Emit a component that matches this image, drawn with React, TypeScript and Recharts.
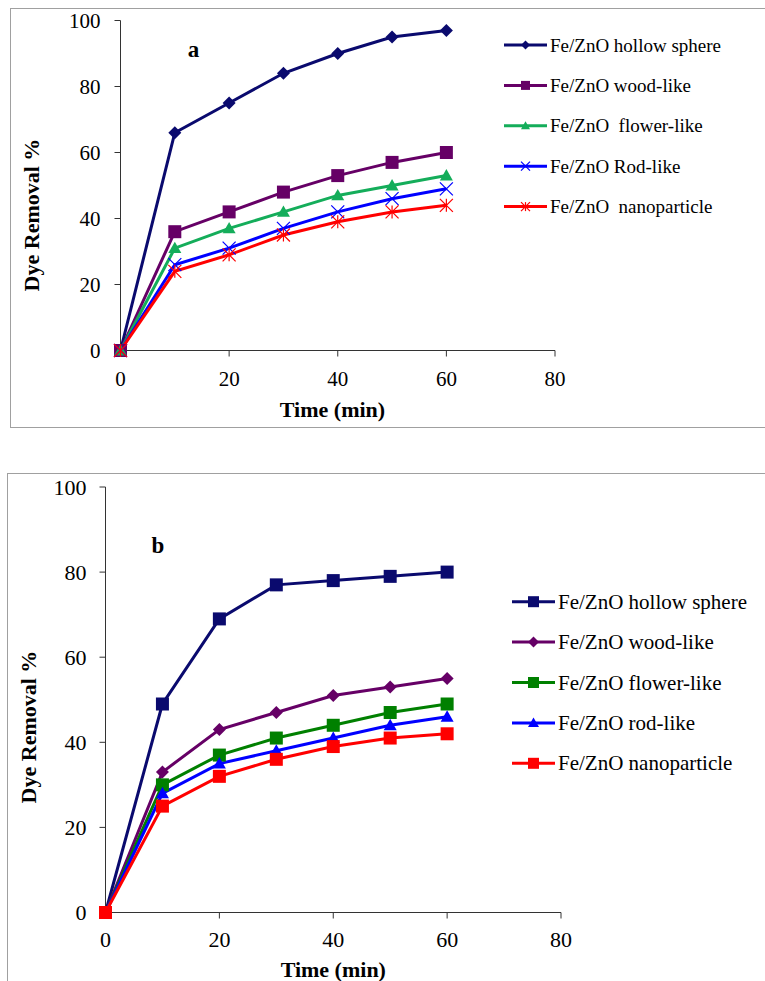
import React from "react";
import { LineChart, Line, XAxis, YAxis } from "recharts";

// shared axes
const timeMin = [0, 10, 20, 30, 40, 50, 60];
const xTicks = [0, 20, 40, 60, 80];
const yTicks = [0, 20, 40, 60, 80, 100];

// panel a
const hollowA = [0, 66, 75, 84, 90, 95, 97];
const woodA = [0, 36, 42, 48, 53, 57, 60];
const flowerA = [0, 31, 37, 42, 47, 50, 53];
const rodA = [0, 26, 31, 37, 42, 46, 49];
const nanoA = [0, 24, 29, 35, 39, 42, 44];
const labelsA = [
  "Fe/ZnO hollow sphere",
  "Fe/ZnO wood-like",
  "Fe/ZnO  flower-like",
  "Fe/ZnO Rod-like",
  "Fe/ZnO  nanoparticle",
];

// panel b
const hollowB = [0, 49, 69, 77, 78, 79, 80];
const woodB = [0, 33, 43, 47, 51, 53, 55];
const flowerB = [0, 30, 37, 41, 44, 47, 49];
const rodB = [0, 28, 35, 38, 41, 44, 46];
const nanoB = [0, 25, 32, 36, 39, 41, 42];
const labelsB = [
  "Fe/ZnO hollow sphere",
  "Fe/ZnO wood-like",
  "Fe/ZnO flower-like",
  "Fe/ZnO rod-like",
  "Fe/ZnO nanoparticle",
];

const FONT = "'Liberation Serif', 'Times New Roman', serif";

type Shape = "diamond" | "square" | "triangle" | "x" | "star";

interface SeriesStyle {
  color: string;
  shape: Shape;
}

const stylesA: SeriesStyle[] = [
  { color: "#0a0a6e", shape: "diamond" },
  { color: "#660066", shape: "square" },
  { color: "#14ad5a", shape: "triangle" },
  { color: "#0000ff", shape: "x" },
  { color: "#ff0000", shape: "star" },
];

const stylesB: SeriesStyle[] = [
  { color: "#0a0a6e", shape: "square" },
  { color: "#660066", shape: "diamond" },
  { color: "#008000", shape: "square" },
  { color: "#0000ff", shape: "triangle" },
  { color: "#ff0000", shape: "square" },
];

const buildRows = (series: number[][]) =>
  timeMin.map((t, i) => {
    const row: any = { t };
    series.forEach((s, k) => {
      row["s" + k] = s[i];
    });
    return row;
  });

const dataA = buildRows([hollowA, woodA, flowerA, rodA, nanoA]);
const dataB = buildRows([hollowB, woodB, flowerB, rodB, nanoB]);

const Marker = ({
  shape,
  cx,
  cy,
  size,
  color,
}: {
  shape: Shape;
  cx: number;
  cy: number;
  size: number;
  color: string;
}) => {
  const h = size / 2;
  switch (shape) {
    case "diamond":
      return (
        <polygon
          points={`${cx},${cy - h} ${cx + h},${cy} ${cx},${cy + h} ${cx - h},${cy}`}
          fill={color}
        />
      );
    case "square":
      return <rect x={cx - h} y={cy - h} width={size} height={size} fill={color} />;
    case "triangle":
      return (
        <polygon
          points={`${cx},${cy - h} ${cx + h},${cy + h * 0.75} ${cx - h},${cy + h * 0.75}`}
          fill={color}
        />
      );
    case "x":
      return (
        <g stroke={color} strokeWidth={1.2}>
          <line x1={cx - h} y1={cy - h} x2={cx + h} y2={cy + h} />
          <line x1={cx - h} y1={cy + h} x2={cx + h} y2={cy - h} />
        </g>
      );
    case "star":
      return (
        <g stroke={color} strokeWidth={1.2}>
          <line x1={cx - h} y1={cy - h} x2={cx + h} y2={cy + h} />
          <line x1={cx - h} y1={cy + h} x2={cx + h} y2={cy - h} />
          <line x1={cx} y1={cy - h} x2={cx} y2={cy + h} />
        </g>
      );
    default:
      return null;
  }
};

interface PanelProps {
  data: any[];
  styles: SeriesStyle[];
  labels: string[];
  letter: string;
  width: number;
  height: number;
  margin: { top: number; right: number; bottom: number; left: number };
  tickFont: number;
  yTickMargin: number;
  xTickMargin: number;
  legendX: number;
  legendY: number;
  legendFont: number;
  legendSymbol: number;
  letterPos: [number, number];
  xTitlePos: [number, number];
  yTitlePos: [number, number];
}

const Panel = (p: PanelProps) => {
  const tick = { fill: "#000", fontSize: p.tickFont, fontFamily: FONT, style: { fontFamily: FONT } };
  const axisStroke = { stroke: "#333", strokeWidth: 1 };
  const serif = { fontFamily: FONT };
  return (
    <LineChart width={p.width} height={p.height} data={p.data} margin={p.margin} style={serif}>
      <XAxis
        dataKey="t"
        type="number"
        domain={[0, 80]}
        ticks={xTicks}
        interval={0}
        height={30}
        tickSize={6}
        tickMargin={p.xTickMargin}
        tick={tick}
        axisLine={axisStroke}
        tickLine={axisStroke}
      />
      <YAxis
        type="number"
        domain={[0, 100]}
        ticks={yTicks}
        interval={0}
        width={60}
        tickSize={6}
        tickMargin={p.yTickMargin}
        tick={tick}
        axisLine={axisStroke}
        tickLine={axisStroke}
      />
      {p.styles.map((s, k) => (
        <Line
          key={"s" + k}
          dataKey={"s" + k}
          type="linear"
          stroke={s.color}
          strokeWidth={3}
          isAnimationActive={false}
          dot={(d: any) => (
            <Marker
              key={`m${k}-${d.index}`}
              shape={s.shape}
              cx={d.cx}
              cy={d.cy}
              size={13}
              color={s.color}
            />
          )}
          activeDot={false}
        />
      ))}
      <text
        x={p.letterPos[0]}
        y={p.letterPos[1]}
        textAnchor="middle"
        style={serif}
        fontWeight="bold"
        fontSize={23}
      >
        {p.letter}
      </text>
      <text
        x={p.xTitlePos[0]}
        y={p.xTitlePos[1]}
        textAnchor="middle"
        style={serif}
        fontWeight="bold"
        fontSize={22}
      >
        Time (min)
      </text>
      <text
        x={p.yTitlePos[0]}
        y={p.yTitlePos[1]}
        textAnchor="middle"
        dominantBaseline="central"
        transform={`rotate(-90, ${p.yTitlePos[0]}, ${p.yTitlePos[1]})`}
        style={serif}
        fontWeight="bold"
        fontSize={22}
      >
        Dye Removal %
      </text>
      {p.labels.map((label, k) => {
        const y = p.legendY + k * 40.4;
        const s = p.styles[k];
        return (
          <g key={"leg" + k}>
            <line x1={p.legendX} x2={p.legendX + 43} y1={y} y2={y} stroke={s.color} strokeWidth={3} />
            <Marker shape={s.shape} cx={p.legendX + 21.5} cy={y} size={p.legendSymbol} color={s.color} />
            <text
              x={p.legendX + 46}
              y={y}
              dominantBaseline="central"
              fontSize={p.legendFont}
              style={{ fontFamily: FONT, whiteSpace: "pre" }}
            >
              {label}
            </text>
          </g>
        );
      })}
    </LineChart>
  );
};

export default function App() {
  return (
    <div
      style={{
        position: "absolute",
        left: 0,
        top: 0,
        width: 765,
        height: 981,
        overflow: "hidden",
        background: "#fff",
      }}
    >
      <div
        style={{
          position: "absolute",
          left: 10,
          top: 8,
          width: 800,
          height: 418,
          border: "1px solid #a0a0a0",
        }}
      />
      <div
        style={{
          position: "absolute",
          left: 7,
          top: 473,
          width: 800,
          height: 600,
          border: "1px solid #a0a0a0",
        }}
      />
      <div style={{ position: "absolute", left: 0, top: 0 }}>
        <Panel
          data={dataA}
          styles={stylesA}
          labels={labelsA}
          letter="a"
          width={765}
          height={440}
          margin={{ top: 20.5, right: 210, bottom: 59.5, left: 60.5 }}
          tickFont={21}
          yTickMargin={14}
          xTickMargin={15}
          legendX={504}
          legendY={45}
          legendFont={19}
          legendSymbol={9}
          letterPos={[193.5, 57]}
          xTitlePos={[332.5, 417]}
          yTitlePos={[31, 215]}
        />
      </div>
      <div style={{ position: "absolute", left: 0, top: 460 }}>
        <Panel
          data={dataB}
          styles={stylesB}
          labels={labelsB}
          letter="b"
          width={765}
          height={521}
          margin={{ top: 27, right: 204, bottom: 38.5, left: 45.5 }}
          tickFont={22}
          yTickMargin={13}
          xTickMargin={13}
          legendX={512}
          legendY={141.7}
          legendFont={21}
          legendSymbol={11}
          letterPos={[158, 92.7]}
          xTitlePos={[333.3, 517]}
          yTitlePos={[28, 267]}
        />
      </div>
    </div>
  );
}
